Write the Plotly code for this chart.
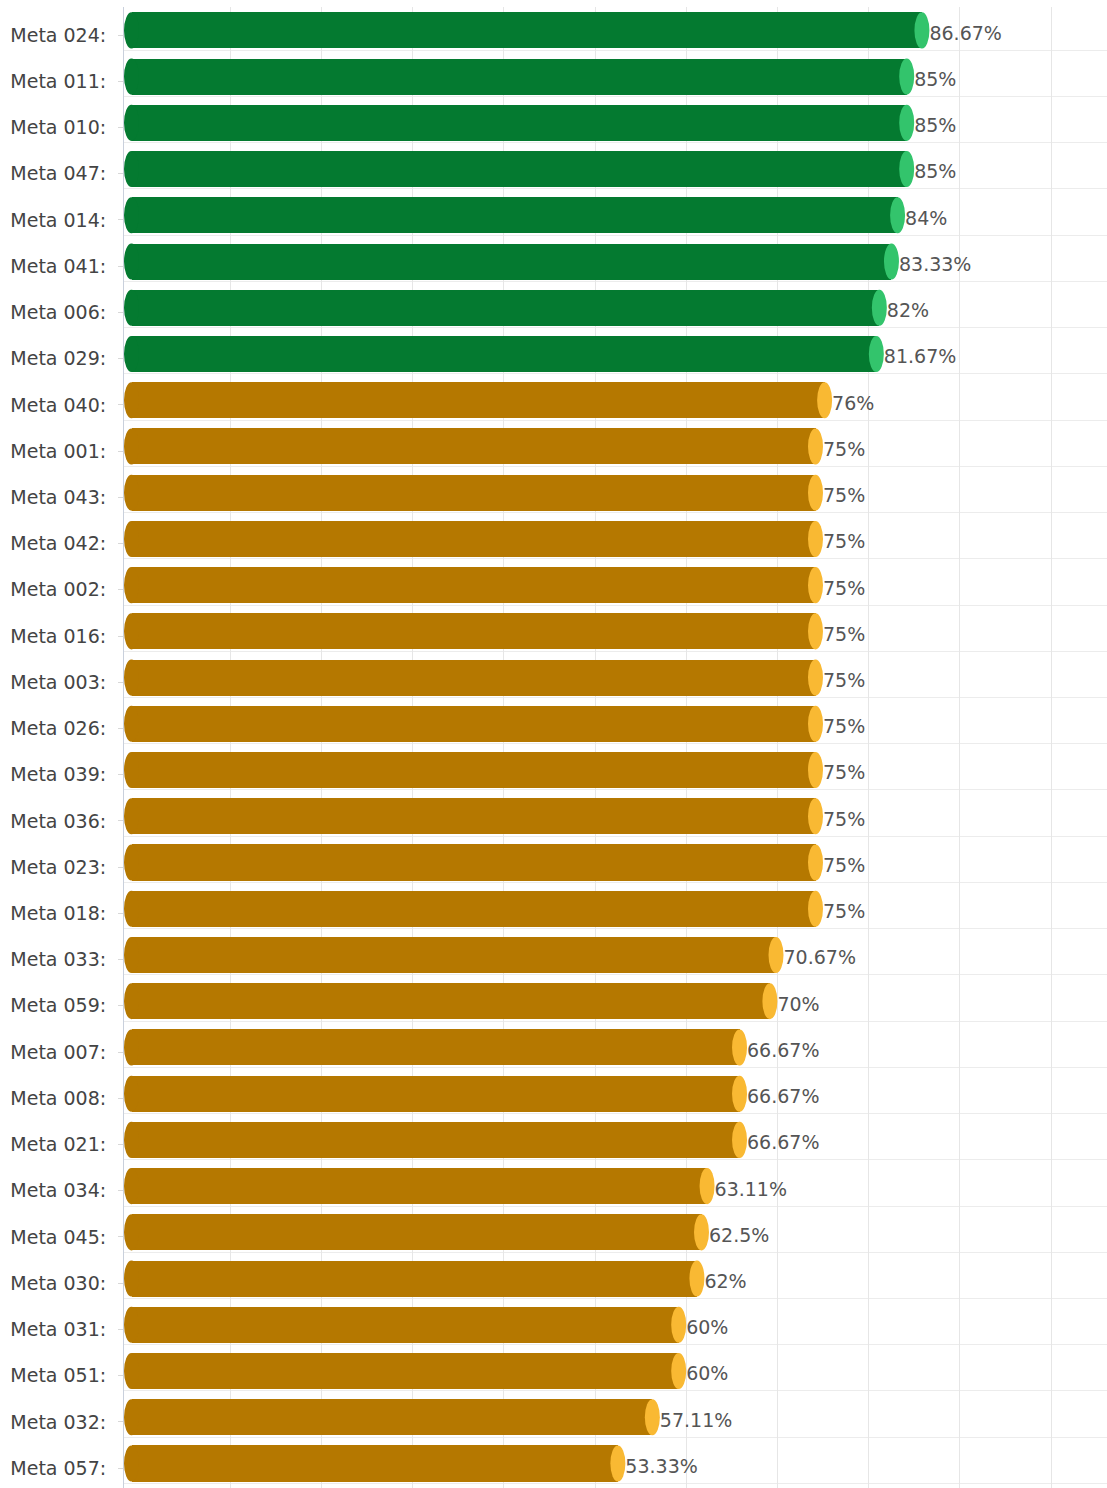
import plotly.graph_objects as go

categories = ["Meta 024:", "Meta 011:", "Meta 010:", "Meta 047:", "Meta 014:", "Meta 041:",
              "Meta 006:", "Meta 029:", "Meta 040:", "Meta 001:", "Meta 043:", "Meta 042:",
              "Meta 002:", "Meta 016:", "Meta 003:", "Meta 026:", "Meta 039:", "Meta 036:",
              "Meta 023:", "Meta 018:", "Meta 033:", "Meta 059:", "Meta 007:", "Meta 008:",
              "Meta 021:", "Meta 034:", "Meta 045:", "Meta 030:", "Meta 031:", "Meta 051:",
              "Meta 032:", "Meta 057:"]
values = [86.67, 85, 85, 85, 84, 83.33, 82, 81.67, 76, 75, 75, 75, 75, 75, 75, 75, 75, 75,
          75, 75, 70.67, 70, 66.67, 66.67, 66.67, 63.11, 62.5, 62, 60, 60, 57.11, 53.33]
value_labels = [f"{v:g}%" for v in values]

# style constants
HIGH = 80
BODY_HI, CAP_HI = "#047a30", "#33c46c"
BODY_LO, CAP_LO = "#b57800", "#f9b933"
X_MIN, X_MAX = -1.645, 106.14
CAPW = 1.645          # cap ellipse width in axis units
BAR_H = 0.78          # bar thickness in category units
SHIFT = 0.1           # 3D depth upward shift of bars

n = len(categories)
ys = list(range(n))
bar_y = [y - SHIFT for y in ys]
body_col = [BODY_HI if v >= HIGH else BODY_LO for v in values]
cap_col = [CAP_HI if v >= HIGH else CAP_LO for v in values]
base = X_MIN + CAPW / 2

fig = go.Figure()
fig.add_trace(go.Bar(
    y=bar_y, x=[v - CAPW / 2 - base for v in values], base=base,
    orientation="h", width=BAR_H, marker=dict(color=body_col, line=dict(width=0)),
    hoverinfo="skip", showlegend=False))

fig.add_trace(go.Scatter(
    y=ys, x=values, mode="text", text=value_labels,
    textposition="middle right",
    textfont=dict(family="DejaVu Sans", size=19, color="#555555"),
    hoverinfo="skip", showlegend=False))

shapes = []
for yc, v, bc, cc in zip(bar_y, values, body_col, cap_col):
    shapes.append(dict(type="circle", xref="x", yref="y",
                       x0=X_MIN, x1=X_MIN + CAPW, y0=yc - BAR_H / 2, y1=yc + BAR_H / 2,
                       fillcolor=bc, line=dict(width=0)))
    shapes.append(dict(type="circle", xref="x", yref="y",
                       x0=v - CAPW, x1=v, y0=yc - BAR_H / 2, y1=yc + BAR_H / 2,
                       fillcolor=cc, line=dict(width=0)))

fig.update_layout(
    width=1107, height=1488,
    margin=dict(l=124, r=0, t=7, b=0),
    paper_bgcolor="white", plot_bgcolor="white",
    shapes=shapes,
    xaxis=dict(range=[X_MIN, X_MAX], tickvals=list(range(10, 110, 10)),
               showticklabels=False, showgrid=True, gridcolor="#e6e6e6", gridwidth=1,
               zeroline=False, showline=False, fixedrange=True),
    yaxis=dict(range=[31.43, -0.606], tickvals=ys, ticktext=categories,
               showgrid=False, zeroline=False,
               showline=True, linecolor="#c9d0dc", linewidth=1,
               ticks="outside", ticklen=5, tickcolor="#d8d8d8",
               ticklabelstandoff=8,
               tickfont=dict(family="DejaVu Sans", size=19, color="#444444"),
               minor=dict(tick0=0.33, dtick=1, showgrid=True, gridcolor="#ececec",
                          gridwidth=1, ticks=""),
               fixedrange=True),
    bargap=0,
)

fig.write_html("out.html", config={"displayModeBar": False},
               post_script="document.body.style.margin='0px';document.body.style.overflow='hidden';")
